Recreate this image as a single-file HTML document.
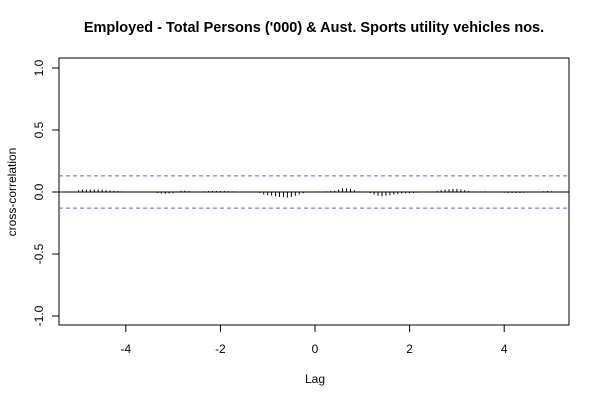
<!DOCTYPE html>
<html><head><meta charset="utf-8"><style>body{margin:0;background:#fff}svg{display:block;font-family:"Liberation Sans",Arial,sans-serif}</style></head>
<body>
<svg id="c" width="600" height="400">
<text x="314" y="32" text-anchor="middle" font-weight="bold" font-size="14.5">Employed - Total Persons ('000) &amp; Aust. Sports utility vehicles nos.</text>
<rect x="59" y="58" width="510" height="267" fill="none" stroke="#000"/>
<text x="315" y="383" text-anchor="middle" font-size="12">Lag</text>
<text transform="translate(16,192) rotate(-90)" text-anchor="middle" font-size="12">cross-correlation</text>
<g id="g"></g>
</svg>
<script>
const xTicks=[-4,-2,0,2,4];
const yTicks=[-1.0,-0.5,0.0,0.5,1.0];
const ci=[0.13,-0.13];
const lagStart=-5, lagStep=1/12;
const ccfValues=[0.015,0.02,0.02,0.02,0.02,0.02,0.018,0.015,0.012,0.01,0.008,0.006,0.005,
0.004,0.003,0.002,0.001,0,-0.002,-0.004,-0.008,-0.012,-0.015,-0.012,-0.01,
0.005,0.01,0.012,0.008,0.004,0.003,0.004,0.006,0.008,0.008,0.008,0.008,
0.008,0.007,0.006,0.005,0.003,0.002,0,-0.002,-0.005,-0.01,-0.02,-0.025,
-0.03,-0.035,-0.04,-0.04,-0.045,-0.04,-0.03,-0.02,-0.01,-0.005,0,0.003,
0.005,0.005,0.006,0.008,0.01,0.02,0.03,0.03,0.025,0.015,0.005,0,
-0.005,-0.01,-0.02,-0.03,-0.035,-0.03,-0.025,-0.02,-0.015,-0.012,-0.01,-0.01,
-0.008,-0.006,-0.004,-0.002,0,0.005,0.01,0.015,0.02,0.022,0.025,0.025,
0.02,0.015,0.01,0.005,0.003,0.005,0.006,0.004,0.002,-0.002,-0.004,-0.006,
-0.008,-0.008,-0.008,-0.008,-0.006,-0.005,-0.004,-0.003,0.002,0.006,0.008,0.006];
const X=v=>315+v*47.3, Y=v=>192-v*124;
const g=document.getElementById('g'),NS='http://www.w3.org/2000/svg';
function mk(t,a){const e=document.createElementNS(NS,t);for(const k in a)e.setAttribute(k,a[k]);g.appendChild(e);return e;}
xTicks.forEach(t=>{
 const l=mk('line',{x1:X(t),x2:X(t),y1:325,y2:332,stroke:'#000'});
 
 
 const s=mk('text',{x:X(t),y:353,'text-anchor':'middle','font-size':12});s.textContent=t;
 
 
});
yTicks.forEach(t=>{
 const l=mk('line',{x1:52,x2:59,y1:Y(t),y2:Y(t),stroke:'#000'});
 
 
 const s=mk('text',{transform:`translate(43,${Y(t)}) rotate(-90)`,'text-anchor':'middle','font-size':12});s.textContent=t.toFixed(1);
 
 
});
const z=mk('line',{x1:59,x2:569,y1:Y(0),y2:Y(0),stroke:'#000'});


ci.forEach(c=>{
 const l=mk('line',{x1:59,x2:569,y1:Y(c),y2:Y(c),stroke:'#6666bb','stroke-dasharray':'4,3'});
 
 
});
ccfValues.forEach((v,i)=>{
 const x=X(lagStart+i*lagStep);
 const b=mk('line',{x1:x,x2:x,y1:Y(0),y2:Y(v),stroke:'#000'});
 
 
});
</script>
</body></html>
